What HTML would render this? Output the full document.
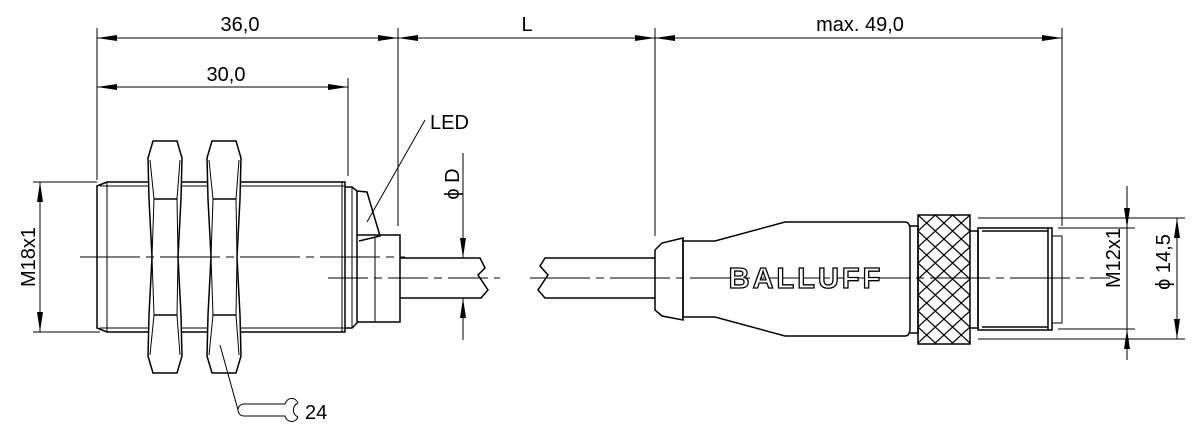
<!DOCTYPE html>
<html><head><meta charset="utf-8"><style>
html,body{margin:0;padding:0;background:#fff;}
svg{display:block;}
text{font-family:"Liberation Sans",sans-serif;fill:#000;}
</style></head><body>
<svg width="1200" height="438" viewBox="0 0 1200 438" xmlns="http://www.w3.org/2000/svg">
<defs>
<marker id="a" viewBox="0 0 20 8" refX="20" refY="4" markerWidth="20" markerHeight="8" markerUnits="userSpaceOnUse" orient="auto-start-reverse"><path d="M0,1 L20,4 L0,7 Z" fill="#000"/></marker>
<pattern id="k" x="918" y="215" width="17.3" height="16" patternUnits="userSpaceOnUse"><path d="M0,0 L17.3,16 M17.3,0 L0,16" stroke="#000" stroke-width="1.2"/></pattern>
</defs>
<g stroke="#000" fill="none" stroke-width="1">
<line x1="97" y1="28" x2="97" y2="180"/>
<line x1="398" y1="28" x2="398" y2="226"/>
<line x1="655" y1="28" x2="655" y2="236"/>
<line x1="1062" y1="28" x2="1062" y2="226"/>
<line x1="348" y1="78" x2="348" y2="176"/>
<line x1="97" y1="38" x2="398" y2="38" marker-start="url(#a)" marker-end="url(#a)"/>
<line x1="398" y1="38" x2="655" y2="38" marker-start="url(#a)" marker-end="url(#a)"/>
<line x1="655" y1="38" x2="1062" y2="38" marker-start="url(#a)" marker-end="url(#a)"/>
<line x1="97" y1="87" x2="348" y2="87" marker-start="url(#a)" marker-end="url(#a)"/>
<line x1="33" y1="182" x2="97" y2="182"/>
<line x1="33" y1="332" x2="100" y2="332"/>
<line x1="40" y1="182" x2="40" y2="332" marker-start="url(#a)" marker-end="url(#a)"/>
<path d="M97,186 L107,182 L345,182 L345,332 L107,332 L97,328 Z" stroke-width="1.5"/>
<line x1="100" y1="186" x2="345" y2="186"/>
<line x1="100" y1="328" x2="345" y2="328"/>
<line x1="107" y1="182" x2="107" y2="332"/>
<line x1="342" y1="182" x2="342" y2="332"/>
<path d="M345,187 L352,187 L357,191 L357,323 L352,328 L345,328" stroke-width="1.5"/>
<line x1="352" y1="187" x2="352" y2="328"/>
<path d="M357,191 L367,192 L380,236 L359,241" stroke-width="1.5"/>
<path d="M357,235 L400,235 L400,322 L357,322" stroke-width="1.5"/>
<line x1="375" y1="238" x2="375" y2="322"/>
<g stroke-width="1.5" fill="#fff">
<path d="M153,141 L177,141 L182,158 L181,199 L178,257 L181,315 L182,356 L177,373 L153,373 L148,356 L149,315 L152,257 L149,199 L148,158 Z"/>
<path d="M212,141 L236,141 L241,158 L240,199 L237,257 L240,315 L241,356 L236,373 L212,373 L207,356 L208,315 L211,257 L208,199 L207,158 Z"/>
</g>
<path d="M154,199 L177,199 M154,315 L177,315 M213,199 L236,199 M213,315 L236,315" stroke-width="1.5"/>
<path d="M150,160 L154,199 L152,257 L154,315 L150,355 M180,160 L177,199 L178,257 L177,315 L180,355 M209,160 L213,199 L211,257 L213,315 L209,355 M239,160 L236,199 L237,257 L236,315 L239,355"/>
<line x1="80" y1="257" x2="405" y2="257" stroke-dasharray="60,6,8,6"/>
<path d="M400,258 L480,258 L485,268 L478,275 L488,290 L481,298 L400,298" stroke-width="1.5"/>
<path d="M655,258 L545,258 L540,266 L548,275 L538,290 L545,298 L655,298" stroke-width="1.5"/>
<line x1="328" y1="278" x2="500" y2="278" stroke-dasharray="40,6,8,6"/>
<line x1="530" y1="278" x2="1110" y2="278" stroke-dasharray="60,6,8,6"/>
<line x1="463" y1="153" x2="463" y2="258" marker-end="url(#a)"/>
<line x1="463" y1="298" x2="463" y2="340" marker-start="url(#a)"/>
<line x1="367" y1="222" x2="425" y2="120"/>
<line x1="220" y1="345" x2="238" y2="410"/>
<path d="M244,404 L285,404 A7,8 0 0 1 298,403 M244,416 L285,416 A7,8 0 0 0 298,417 M244,404 A6,6 0 0 0 244,416 M298,403 A9,8 0 0 0 298,417" />
<g stroke-width="1.5">
<path d="M683,238 L662,243 L655,250 L655,310 L662,316 L683,320 Z"/>
<line x1="683" y1="238" x2="683" y2="320"/>
<path d="M683,241 L715,241 L785,222 L905,222 Q910,222 910,230 L910,328 Q910,336 905,336 L785,336 L715,317 L683,317"/>
<path d="M910,226 L918,226 L918,333 L910,333"/>
<rect x="918" y="215" width="52" height="129" fill="url(#k)"/>
<path d="M970,231 L978,231 L978,328 L970,328"/>
<rect x="978" y="228" width="74" height="102"/>
<line x1="982" y1="231" x2="1048" y2="231"/>
<line x1="982" y1="327" x2="1048" y2="327"/>
<line x1="1048" y1="228" x2="1048" y2="330"/>
</g>
<rect x="1052" y="236" width="10" height="87"/>
<line x1="978" y1="218" x2="1185" y2="218"/>
<line x1="978" y1="339" x2="1185" y2="339"/>
<line x1="1058" y1="228" x2="1135" y2="228"/>
<line x1="1058" y1="329" x2="1135" y2="329"/>
<line x1="1127" y1="186" x2="1127" y2="228" marker-end="url(#a)"/>
<line x1="1127" y1="329" x2="1127" y2="360" marker-start="url(#a)"/>
<line x1="1127" y1="228" x2="1127" y2="329"/>
<line x1="1177" y1="218" x2="1177" y2="339" marker-start="url(#a)" marker-end="url(#a)"/>
</g>
<text x="240" y="31" font-size="20" text-anchor="middle">36,0</text>
<text x="226" y="81" font-size="20" text-anchor="middle">30,0</text>
<text x="527" y="31" font-size="20" text-anchor="middle">L</text>
<text x="860" y="31" font-size="20" text-anchor="middle">max. 49,0</text>
<text x="430" y="129" font-size="20">LED</text>
<text x="305" y="419" font-size="20">24</text>
<text transform="translate(35,257) rotate(-90)" font-size="20" text-anchor="middle">M18x1</text>
<text transform="translate(459,184) rotate(-90)" font-size="20" text-anchor="middle">ϕ D</text>
<text transform="translate(1120,258) rotate(-90)" font-size="20" text-anchor="middle">M12x1</text>
<text transform="translate(1170,262) rotate(-90)" font-size="20" text-anchor="middle">ϕ 14,5</text>
<text x="806" y="288" font-size="29" font-weight="bold" text-anchor="middle" letter-spacing="3" style="fill:#fff;stroke:#000;stroke-width:1.3">BALLUFF</text>
</svg>
</body></html>
